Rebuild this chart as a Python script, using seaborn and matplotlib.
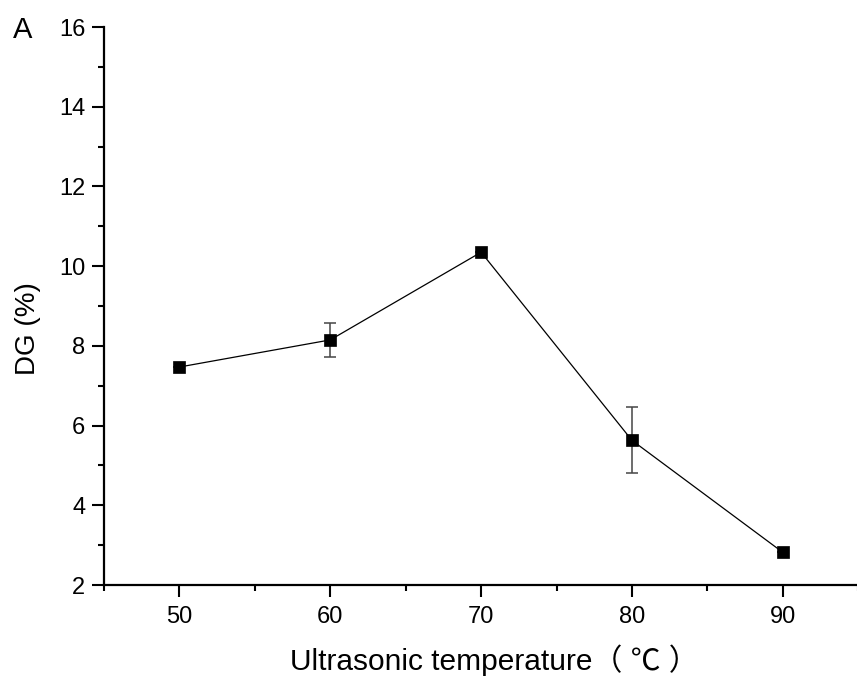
import matplotlib
matplotlib.use("Agg")
import matplotlib.pyplot as plt
from matplotlib.ticker import MultipleLocator
import seaborn as sns
import pandas as pd

# values
temperature = [50, 60, 70, 80, 90]
dg = [7.47, 8.15, 10.35, 5.63, 2.82]
dg_err = [0.0, 0.42, 0.0, 0.83, 0.0]

df = pd.DataFrame({"temperature": temperature, "dg": dg, "err": dg_err})

sns.set_style("ticks")
plt.rcParams["font.family"] = ["Liberation Sans", "Noto Sans CJK SC", "DejaVu Sans"]
plt.rcParams.update({"text.color": "black", "axes.labelcolor": "black",
                     "xtick.color": "black", "ytick.color": "black",
                     "axes.edgecolor": "black"})

fig = plt.figure(figsize=(8.57, 6.79), dpi=100)
ax = fig.add_axes([0.1214, 0.1384, 0.88, 0.8218])

# error bars first, so the markers sit on top
ax.errorbar(df["temperature"], df["dg"], yerr=df["err"], fmt="none",
            ecolor="#454545", elinewidth=1.1, capsize=4.2, capthick=1.1, zorder=2)
sns.lineplot(data=df, x="temperature", y="dg", ax=ax, color="black",
             linewidth=0.9, marker="s", markersize=9, markeredgewidth=0.5,
             markeredgecolor="black", markerfacecolor="black", zorder=3)

ax.set_xlim(45, 95)
ax.set_ylim(2, 16)
ax.xaxis.set_major_locator(MultipleLocator(10))
ax.xaxis.set_minor_locator(MultipleLocator(5))
ax.yaxis.set_major_locator(MultipleLocator(2))
ax.yaxis.set_minor_locator(MultipleLocator(1))

for side in ["top", "right"]:
    ax.spines[side].set_visible(False)
for side in ["left", "bottom"]:
    ax.spines[side].set_linewidth(1.6)

ax.tick_params(which="major", direction="out", length=8.5, width=1.5, labelsize=17)
ax.tick_params(axis="y", which="major", pad=5)
ax.tick_params(axis="x", which="major", pad=6.5)
ax.tick_params(which="minor", direction="out", length=4.3, width=1.5)

ax.set_xlabel("Ultrasonic temperature（ ℃ ）", fontsize=21.5, labelpad=12)
ax.xaxis.label.set_x(0.517)
ax.set_ylabel("DG (%)", fontsize=20)
ax.yaxis.set_label_coords(-0.084, 0.46)
fig.text(0.0152, 0.944, "A", fontsize=21, va="baseline")

fig.savefig("out.png", dpi=100)
